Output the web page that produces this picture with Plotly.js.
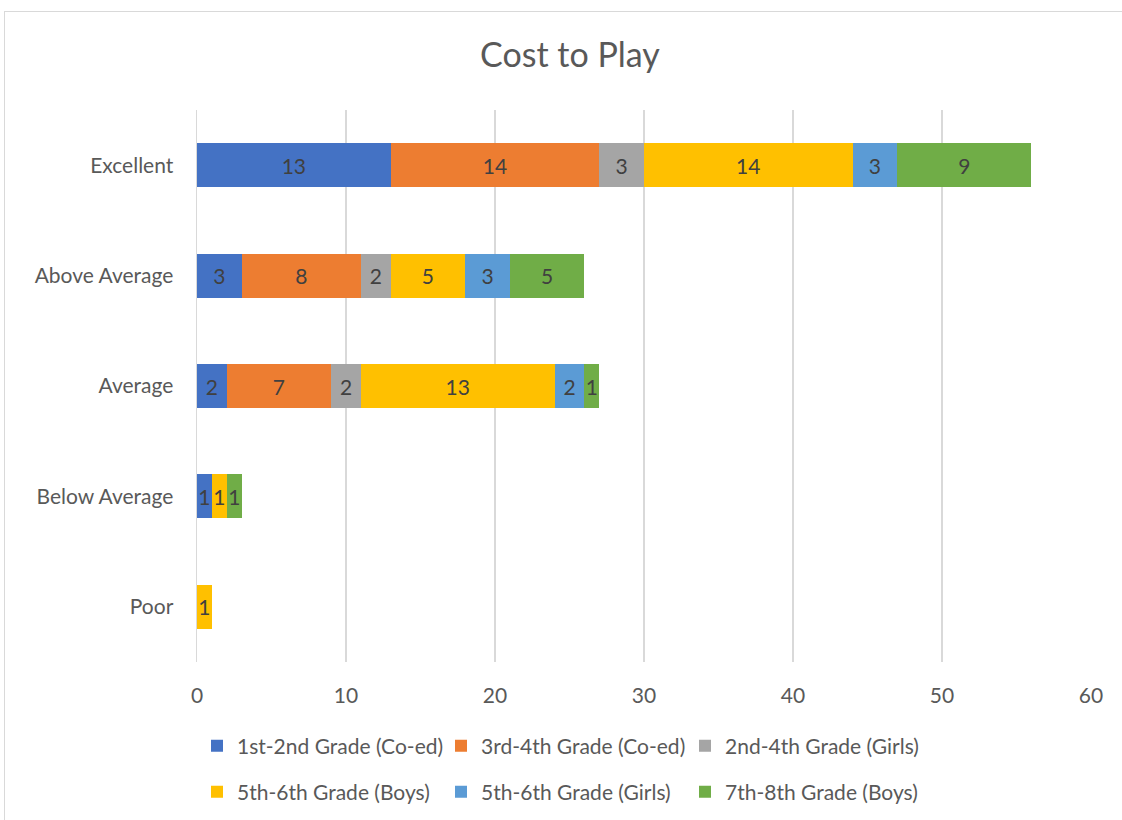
<!DOCTYPE html>
<html>
<head>
<meta charset="utf-8">
<script src="https://cdn.plot.ly/plotly-3.0.1.min.js"></script>
<style>
html,body{margin:0;padding:0;background:#fff;overflow:hidden;}
#wrap{position:relative;width:1122px;height:820px;}
#frame{position:absolute;left:4px;top:11px;width:1140px;height:830px;border:1px solid #d9d9d9;box-sizing:border-box;pointer-events:none;}
#chart{position:absolute;left:0;top:0;width:1122px;height:820px;}
</style>
</head>
<body>
<div id="wrap"><div id="chart"></div><div id="frame"></div></div>
<script>
const categories = ["Excellent", "Above Average", "Average", "Below Average", "Poor"];
const seriesNames = ["1st-2nd Grade (Co-ed)", "3rd-4th Grade (Co-ed)", "2nd-4th Grade (Girls)",
                     "5th-6th Grade (Boys)", "5th-6th Grade (Girls)", "7th-8th Grade (Boys)"];
const grade12Coed  = [13, 3, 2, 1, null];
const grade34Coed  = [14, 8, 7, null, null];
const grade24Girls = [3, 2, 2, null, null];
const grade56Boys  = [14, 5, 13, 1, 1];
const grade56Girls = [3, 3, 2, null, null];
const grade78Boys  = [9, 5, 1, 1, null];
const xTicks = [0, 10, 20, 30, 40, 50, 60];

const colors = ["#4472C4", "#ED7D31", "#A5A5A5", "#FFC000", "#5B9BD5", "#70AD47"];
const seriesValues = [grade12Coed, grade34Coed, grade24Girls, grade56Boys, grade56Girls, grade78Boys];
const FONT = "Lato, 'Open Sans', sans-serif";

const traces = seriesValues.map((vals, i) => ({
  type: "bar",
  orientation: "h",
  name: seriesNames[i],
  y: categories,
  x: vals,
  text: vals.map(v => v == null ? "" : String(v)),
  textposition: "inside",
  insidetextanchor: "middle",
  constraintext: "none",
  textangle: 0,
  textfont: {family: FONT, size: 21, color: "#404040"},
  marker: {color: colors[i], line: {width: 0}},
  hoverinfo: "x+name",
  legend: i < 3 ? "legend" : "legend2"
}));

const legendCommon = {
  orientation: "h",
  xref: "container", yref: "container",
  xanchor: "left", yanchor: "middle",
  font: {family: FONT, size: 21, color: "#595959"},
  traceorder: "normal",
  entrywidthmode: "pixels",
  entrywidth: 199,
  itemwidth: 30,
  bgcolor: "rgba(0,0,0,0)"
};

const layout = {
  width: 1122, height: 820,
  paper_bgcolor: "#fff", plot_bgcolor: "#fff",
  margin: {l: 197, r: 31, t: 110, b: 158, autoexpand: false},
  barmode: "stack",
  bargap: 0.6,
  showlegend: true,
  title: {
    text: "Cost to Play",
    xref: "container", yref: "container",
    x: 0.508, y: 1 - 55/820, xanchor: "center", yanchor: "middle",
    font: {family: FONT, size: 34, color: "#595959"}
  },
  xaxis: {
    range: [0, 60],
    tickvals: xTicks,
    ticktext: xTicks.map(String),
    showgrid: true, gridcolor: "#d9d9d9", gridwidth: 1.5,
    zeroline: false, showline: false,
    ticks: "", ticklabelstandoff: 19,
    tickfont: {family: FONT, size: 21, color: "#595959"},
    fixedrange: true
  },
  yaxis: {
    type: "category",
    categoryorder: "array", categoryarray: categories,
    autorange: "reversed",
    showgrid: false, zeroline: false,
    showline: true, linecolor: "#d9d9d9", linewidth: 1.5,
    ticks: "", ticklabelstandoff: 18,
    tickfont: {family: FONT, size: 21, color: "#595959"},
    fixedrange: true
  },
  legend: Object.assign({}, legendCommon, {x: 197/1122, y: 1 - 746/820}),
  legend2: Object.assign({}, legendCommon, {x: 197/1122, y: 1 - 792/820})
};

Plotly.newPlot("chart", traces, layout, {displayModeBar: false, staticPlot: true});
</script>
</body>
</html>
